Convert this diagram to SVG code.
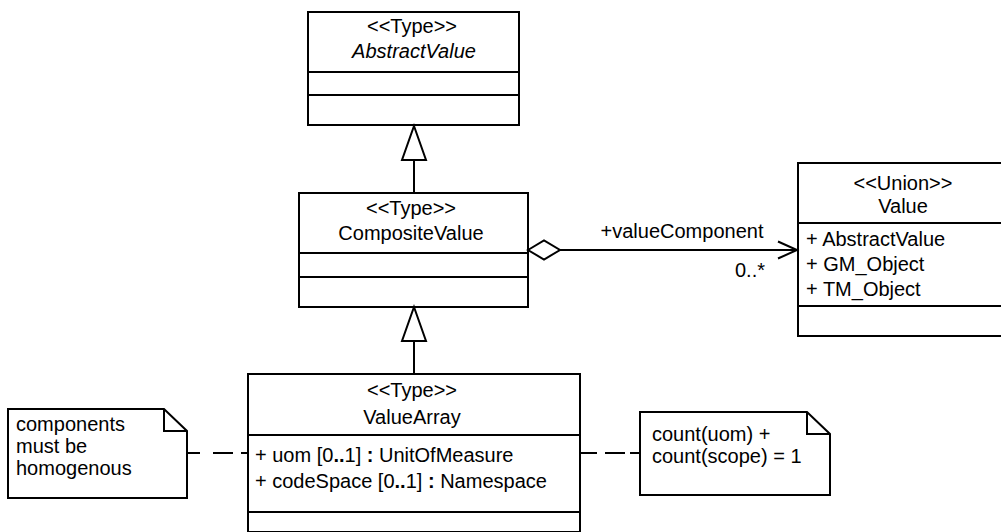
<svg xmlns="http://www.w3.org/2000/svg" width="1001" height="532" viewBox="0 0 1001 532">
<style>
.box{fill:#fff;stroke:#000;stroke-width:2}
.ln{fill:none;stroke:#000;stroke-width:2}
.t{font-family:"Liberation Sans",Arial,sans-serif;font-size:20px;fill:#000}
.c{text-anchor:middle}
.i{font-style:italic}
.b{font-weight:bold}
</style>
<rect width="1001" height="532" fill="#fff"/>
<g id="AbstractValue">
<rect class="box" x="308" y="12" width="211" height="113"/>
<line class="ln" x1="308" y1="72" x2="519" y2="72"/>
<line class="ln" x1="308" y1="95" x2="519" y2="95"/>
<text class="t c" x="412" y="33">&lt;&lt;Type&gt;&gt;</text>
<text class="t c i" x="414" y="58">AbstractValue</text>
</g>
<g id="CompositeValue">
<rect class="box" x="299" y="193" width="229" height="114"/>
<line class="ln" x1="299" y1="253" x2="528" y2="253"/>
<line class="ln" x1="299" y1="277" x2="528" y2="277"/>
<text class="t c" x="411" y="215">&lt;&lt;Type&gt;&gt;</text>
<text class="t c" x="411" y="240">CompositeValue</text>
</g>
<g id="Value">
<rect class="box" x="798" y="163" width="210" height="173"/>
<line class="ln" x1="798" y1="223" x2="1008" y2="223"/>
<line class="ln" x1="798" y1="306" x2="1008" y2="306"/>
<text class="t c" x="903" y="190">&lt;&lt;Union&gt;&gt;</text>
<text class="t c" x="903" y="213">Value</text>
<text class="t" x="806" y="246">+ AbstractValue</text>
<text class="t" x="806" y="271">+ GM_Object</text>
<text class="t" x="806" y="296">+ TM_Object</text>
</g>
<g id="ValueArray">
<rect class="box" x="248" y="374" width="332" height="158"/>
<line class="ln" x1="248" y1="435" x2="580" y2="435"/>
<line class="ln" x1="248" y1="512" x2="580" y2="512"/>
<text class="t c" x="412" y="397">&lt;&lt;Type&gt;&gt;</text>
<text class="t c" x="412" y="424">ValueArray</text>
<text class="t" x="255" y="462">+ uom [0<tspan class="b">..</tspan>1] <tspan class="b">:</tspan> UnitOfMeasure</text>
<text class="t" x="255" y="488">+ codeSpace [0<tspan class="b">..</tspan>1] <tspan class="b">:</tspan> Namespace</text>
</g>
<g id="NoteHomogenous">
<path class="box" d="M8,409 H164 L187,431 V498 H8 Z"/>
<path class="ln" d="M164,409 V431 H187"/>
<text class="t" x="16" y="431">components</text>
<text class="t" x="16" y="453">must be</text>
<text class="t" x="16" y="475">homogenous</text>
</g>
<g id="NoteCount">
<path class="box" d="M640,412 H807 L830,434 V495 H640 Z"/>
<path class="ln" d="M807,412 V434 H830"/>
<text class="t" x="652" y="441">count(uom) +</text>
<text class="t" x="652" y="463">count(scope) = 1</text>
</g>
<g id="connectors">
<line class="ln" x1="414" y1="160" x2="414" y2="193"/>
<polygon class="box" points="414,126 426,160 402,160"/>
<line class="ln" x1="414" y1="341" x2="414" y2="374"/>
<polygon class="box" points="414,307 426,341 402,341"/>
<line class="ln" x1="560" y1="250" x2="797" y2="250"/>
<polygon class="box" points="528,250 544,240.5 560,250 544,259.5"/>
<polyline class="ln" points="778,241.5 797,250 778,258.5"/>
<text class="t c" x="682" y="238">+valueComponent</text>
<text class="t" x="765" y="277" text-anchor="end">0..*</text>
<line class="ln" x1="188" y1="453" x2="248" y2="453" stroke-dasharray="12 13 20 8 7"/>
<line class="ln" x1="581" y1="453" x2="640" y2="453" stroke-dasharray="16 8 20 5 10"/>
</g>
</svg>
